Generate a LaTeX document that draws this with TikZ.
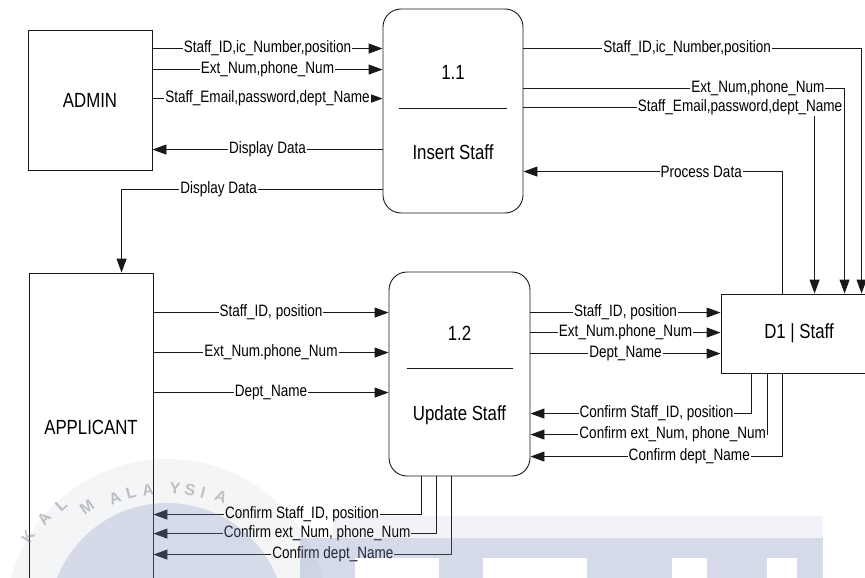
\documentclass[tikz,border=0pt]{standalone}
\usepackage{fontspec}
\setmainfont{Liberation Sans}[FakeStretch=0.82]
\newfontfamily\sealfamily{Liberation Sans}
\usetikzlibrary{arrows.meta,calc}

\definecolor{ink}{RGB}{25,25,25}
\definecolor{wmblue}{RGB}{115,135,182}
\definecolor{wmgrey}{RGB}{110,115,130}

\newcommand\boxfont{\fontsize{20.5}{22}\selectfont}
\newcommand\labfont{\fontsize{16.5}{18}\selectfont}
\newcommand\wmfont{\sealfamily\fontsize{16}{16}\selectfont\bfseries}

\tikzset{
  entity/.style={draw=ink, line width=0.9pt, fill=white, font=\boxfont, inner sep=0pt},
  process/.style={entity, rounded corners=18pt},
  boxtext/.style={font=\boxfont, inner sep=0pt},
  divider/.style={draw=ink, line width=0.8pt},
  flow/.style={draw=ink, line width=0.9pt, -{Triangle[length=14pt,width=10pt]}},
  lab/.style={fill=white, font=\labfont, inner xsep=1pt, inner ysep=0.5pt},
  wmletter/.style={font=\wmfont, text=wmgrey, text opacity=0.42, inner sep=0pt},
}

\begin{document}
\begin{tikzpicture}[x=1pt,y=-1pt]
\useasboundingbox (0,0) rectangle (865,578);

% ---- external entities, processes and data store
\node[entity, minimum width=124pt, minimum height=140pt] (admin) at (90,100) {ADMIN};
\node[entity, minimum width=124pt, minimum height=308pt] (applicant) at (91,427) {APPLICANT};
\node[process, minimum width=140pt, minimum height=204pt] (p11) at (453,111) {};
\node[process, minimum width=141pt, minimum height=204pt] (p12) at (459.5,374) {};
\node[entity, minimum width=156pt, minimum height=79pt] (d1) at (799,333.5) {D1 | Staff};

% process captions
\node[boxtext] (p11id) at ([yshift=39pt]p11.center) {1.1};
\node[boxtext] (p11name) at ([yshift=-41pt]p11.center) {Insert Staff};
\draw[divider] ([xshift=-54pt,yshift=3pt]p11.center) -- ([xshift=54pt,yshift=3pt]p11.center);
\node[boxtext] (p12id) at ([yshift=41pt]p12.center) {1.2};
\node[boxtext] (p12name) at ([yshift=-41pt]p12.center) {Update Staff};
\draw[divider] ([xshift=-53pt,yshift=6pt]p12.center) -- ([xshift=53pt,yshift=6pt]p12.center);

% ---- ADMIN <-> 1.1
\draw[flow] ([yshift=-19pt]admin.north east) coordinate (s1) -- (s1 -| p11.west)
  node[lab, midway] {Staff\_ID,ic\_Number,position};
\draw[flow] ([yshift=-40pt]admin.north east) coordinate (s2) -- (s2 -| p11.west)
  node[lab, midway] {Ext\_Num,phone\_Num};
\draw[flow] ([yshift=-69pt]admin.north east) coordinate (s3) -- (s3 -| p11.west)
  node[lab, midway] {Staff\_Email,password,dept\_Name};
\draw[flow] ([yshift=-141pt]p11.north west) coordinate (s4) -- (s4 -| admin.east)
  node[lab, midway] {Display Data};

% ---- 1.1 -> APPLICANT
\coordinate (appin) at ([xshift=93pt]applicant.north west);
\draw[flow] ([yshift=-181pt]p11.north west) -| node[lab, pos=0.314] {Display Data} (appin);

% ---- 1.1 <-> D1
\coordinate (d1in1) at ([xshift=94pt]d1.north west);
\coordinate (d1in2) at ([xshift=124pt]d1.north west);
\coordinate (d1in3) at ([xshift=141pt]d1.north west);
\draw[flow] ([yshift=-40pt]p11.north east) -| node[lab, pos=0.242] {Staff\_ID,ic\_Number,position} (d1in3);
\draw[flow] ([yshift=-80pt]p11.north east) -| node[lab, pos=0.365] {Ext\_Num,phone\_Num} (d1in2);
\draw[flow] ([yshift=-99pt]p11.north east) -| node[lab, pos=0.372] {Staff\_Email,password,dept\_Name} (d1in1);
\coordinate (pd) at ([yshift=-163pt]p11.north east);
\draw[flow] ([xshift=62pt]d1.north west) |- node[lab, pos=0.657] {Process Data} (pd);

% ---- APPLICANT -> 1.2
\draw[flow] ([yshift=-40pt]applicant.north east) coordinate (u1) -- (u1 -| p12.west)
  node[lab, midway] {Staff\_ID, position};
\draw[flow] ([yshift=-80pt]applicant.north east) coordinate (u2) -- (u2 -| p12.west)
  node[lab, midway] {Ext\_Num.phone\_Num};
\draw[flow] ([yshift=-120pt]applicant.north east) coordinate (u3) -- (u3 -| p12.west)
  node[lab, midway] {Dept\_Name};

% ---- 1.2 -> D1
\draw[flow] ([yshift=-41pt]p12.north east) coordinate (v1) -- (v1 -| d1.west)
  node[lab, midway] {Staff\_ID, position};
\draw[flow] ([yshift=-61pt]p12.north east) coordinate (v2) -- (v2 -| d1.west)
  node[lab, midway] {Ext\_Num.phone\_Num};
\draw[flow] ([yshift=-82pt]p12.north east) coordinate (v3) -- (v3 -| d1.west)
  node[lab, midway] {Dept\_Name};

% ---- D1 -> 1.2
\coordinate (k1) at ([yshift=-142pt]p12.north east);
\coordinate (k2) at ([yshift=-163pt]p12.north east);
\coordinate (k3) at ([yshift=-185pt]p12.north east);
\draw[flow] ([xshift=31pt]d1.south west) |- node[lab, pos=0.715] {Confirm Staff\_ID, position} (k1);
\draw[flow] ([xshift=47pt]d1.south west) |- node[lab, pos=0.70] {Confirm ext\_Num, phone\_Num} (k2);
\draw[flow] ([xshift=62pt]d1.south west) |- node[lab, pos=0.685] {Confirm dept\_Name} (k3);

% ---- 1.2 -> APPLICANT
\coordinate (m1) at ([yshift=-242pt]applicant.north east);
\coordinate (m2) at ([yshift=-261pt]applicant.north east);
\coordinate (m3) at ([yshift=-282pt]applicant.north east);
\draw[flow] ([xshift=33pt]p12.south west) |- node[lab, pos=0.723] {Confirm Staff\_ID, position} (m1);
\draw[flow] ([xshift=48pt]p12.south west) |- node[lab, pos=0.711] {Confirm ext\_Num, phone\_Num} (m2);
\draw[flow] ([xshift=63pt]p12.south west) |- node[lab, pos=0.699] {Confirm dept\_Name} (m3);

% ---- faint university seal and banner laid over the page
\fill[wmgrey, fill opacity=0.07, even odd rule] (167,621) circle[radius=162pt] (167,621) circle[radius=118pt];
\fill[wmblue, fill opacity=0.3] (167,621) circle[radius=118pt];
\foreach \ch/\px/\py/\rt in {K/28/537/58, A/44/519/50, L/61/505/42,
    M/87/507/35, A/115/498/22, L/131/493/16, A/148/490/9, Y/175/488/-4,
    S/190/490/-10, I/203/493/-15, A/221/497/-23}
  \node[wmletter, rotate=\rt] at (\px,\py) {\ch};
\fill[wmblue, fill opacity=0.1] (333,516) rectangle (823,538);
\fill[wmblue, fill opacity=0.3] (300,538) rectangle (823,558);
\foreach \xa/\xb in {300/355, 439/483, 587/672, 707/767, 797/823}
  \fill[wmblue, fill opacity=0.3] (\xa,558) rectangle (\xb,578);
\end{tikzpicture}
\end{document}
